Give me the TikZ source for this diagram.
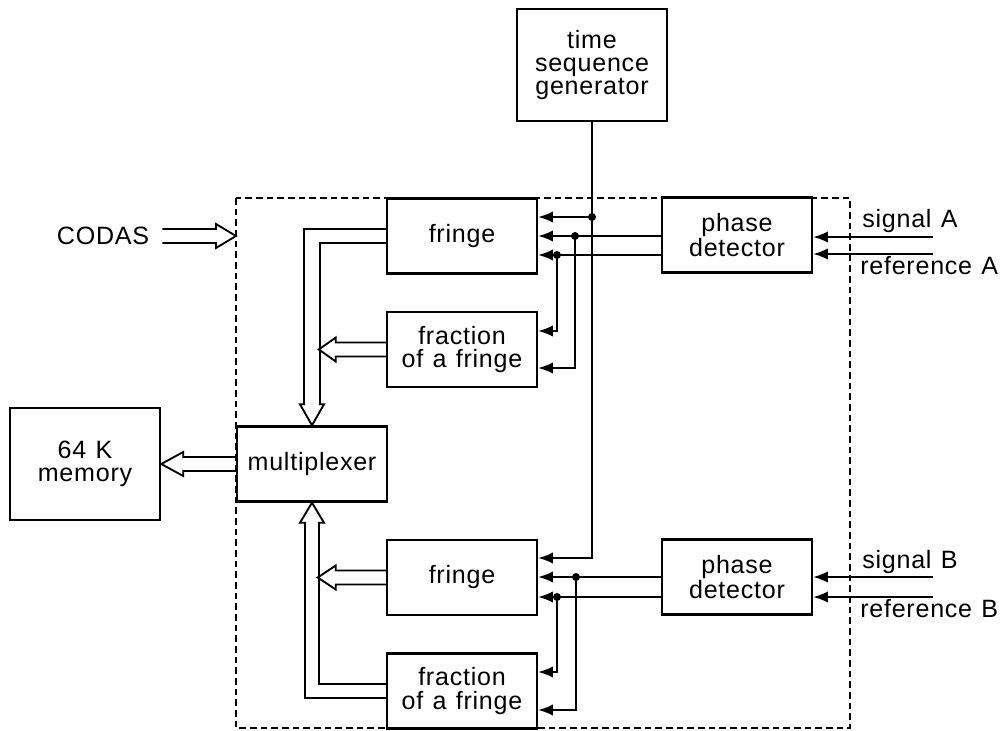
\documentclass[tikz,border=0pt]{standalone}
\usepackage{fontspec}
\setmainfont{Liberation Sans}[LetterSpace=3,WordSpace=1.2]
\usetikzlibrary{arrows.meta,calc}
\newcommand\blkfont{\fontsize{18.8}{17.5}\selectfont}
\begin{document}
\begin{tikzpicture}[x=0.75pt,y=-0.75pt,
  blk/.style={draw,fill=white,line width=1.8pt,minimum width=112.5pt,
    minimum height=56.25pt,inner sep=0pt,align=center,font=\blkfont},
  tall/.style={minimum height=84pt},
  wire/.style={line width=1.4pt},
  sig/.style={wire,-{Latex[length=11pt,width=8.5pt]}},
  bus/.style={line width=1.4pt,line join=miter},
  frame/.style={line width=1.2pt,dash pattern=on 5pt off 3pt},
  jdot/.style={circle,fill,inner sep=0pt,minimum size=6pt},
  lab/.style={font=\blkfont,inner sep=0pt}]
\useasboundingbox (0,0) rectangle (1008,731);

% dashed outline of the interface unit
\coordinate (frameNW) at (236,198);
\coordinate (frameSE) at (850,728);
\draw[frame] (frameNW) rectangle (frameSE);

% blocks
\node[blk,tall] (tsg) at (592,65) {time\\sequence\\generator};
\node[blk] (frA) at (462,236) {fringe};
\node[blk] (fcA) at (462,349.5) {fraction\\of a fringe};
\node[blk] (pdA) at (737,235) {phase\\detector};
\node[blk] (mux) at (312,464) {multiplexer};
\node[blk,tall] (mem) at (85,464) {64 K\\memory};
\node[blk] (frB) at (462,577.5) {fringe};
\node[blk] (fcB) at (462,691) {fraction\\of a fringe};
\node[blk] (pdB) at (737,577) {phase\\detector};

% outside labels
\node[lab] (codas) at (103,236) {CODAS};
\node[lab,anchor=west] (sigA) at (862,221) {signal A};
\node[lab,anchor=west] (refA) at (860,266) {reference A};
\node[lab,anchor=west] (sigB) at (862,562) {signal B};
\node[lab,anchor=west] (refB) at (860,609) {reference B};

% signal inputs to the phase detectors
\coordinate (inA1) at (933,237);
\coordinate (inA2) at (933,254);
\coordinate (inB1) at (933,577);
\coordinate (inB2) at (933,597);
\draw[sig] (inA1) -- (inA1 -| pdA.east);
\draw[sig] (inA2) -- (inA2 -| pdA.east);
\draw[sig] (inB1) -- (inB1 -| pdB.east);
\draw[sig] (inB2) -- (inB2 -| pdB.east);

% timing line
\coordinate (jT) at (592,217);
\coordinate (jTB) at (592,558);
\draw[sig] (tsg.south) -- (jTB) -- (jTB -| frB.east);
\draw[sig] (jT) -- (jT -| frA.east);
\node[jdot] at (jT) {};

% phase detector A outputs
\coordinate (jA1) at (575,236);
\coordinate (jA2) at (557,255);
\draw[wire] (pdA.west |- jA1) -- (jA1);
\draw[wire] (pdA.west |- jA2) -- (jA2);
\draw[sig] (jA1) -- (frA.east |- jA1);
\draw[sig] (jA2) -- (frA.east |- jA2);
\draw[sig] (jA1) |- ($(fcA.east)+(0,18.5)$);
\draw[sig] (jA2) |- ($(fcA.east)+(0,-18.5)$);
\node[jdot] at (jA1) {};
\node[jdot] at (jA2) {};

% phase detector B outputs
\coordinate (jB1) at (576,577);
\coordinate (jB2) at (557,597);
\draw[wire] (pdB.west |- jB1) -- (jB1);
\draw[wire] (pdB.west |- jB2) -- (jB2);
\draw[sig] (jB1) -- (frB.east |- jB1);
\draw[sig] (jB2) -- (frB.east |- jB2);
\draw[sig] (jB1) |- ($(fcB.east)+(0,19)$);
\draw[sig] (jB2) |- ($(fcB.east)+(0,-19)$);
\node[jdot] at (jB1) {};
\node[jdot] at (jB2) {};

% data buses (hollow arrows)
\draw[bus] ($(frA.west)+(0,-7)$) -| ($(mux.north)+(-8,-21)$) -- ++(-4,0)
  -- (mux.north) -- ++(12,-21) -- ++(-4,0) |- ($(frA.west)+(0,7)$);
\draw[bus] ($(fcA.west)+(0,-7)$) -- ($(fcA.west)+(-50,-7)$) -- ++(0,-5)
  -- ($(fcA.west)+(-67,0)$) -- ($(fcA.west)+(-50,12)$) -- ++(0,-5)
  -- ($(fcA.west)+(0,7)$);
\draw[bus] ($(fcB.west)+(0,7)$) -| ($(mux.south)+(-7,20)$) -- ++(-5,0)
  -- (mux.south) -- ++(12,20) -- ++(-5,0) |- ($(fcB.west)+(0,-7)$);
\draw[bus] ($(frB.west)+(0,-7)$) -- ($(frB.west)+(-50,-7)$) -- ++(0,-5)
  -- ($(frB.west)+(-68,0)$) -- ($(frB.west)+(-50,12)$) -- ++(0,-5)
  -- ($(frB.west)+(0,7)$);
\draw[bus] ($(mux.west)+(0,-7)$) -- ($(mem.east)+(22,-7)$) -- ++(0,-5)
  -- (mem.east) -- ($(mem.east)+(22,12)$) -- ++(0,-5) -- ($(mux.west)+(0,7)$);
\coordinate (codasIn) at (frameNW |- codas);
\draw[bus] ($(codas.east)+(13,-7)$) -- ($(codasIn)+(-20,-7)$) -- ++(0,-5)
  -- (codasIn) -- ($(codasIn)+(-20,12)$) -- ++(0,-5) -- ($(codas.east)+(13,7)$);
\end{tikzpicture}
\end{document}
